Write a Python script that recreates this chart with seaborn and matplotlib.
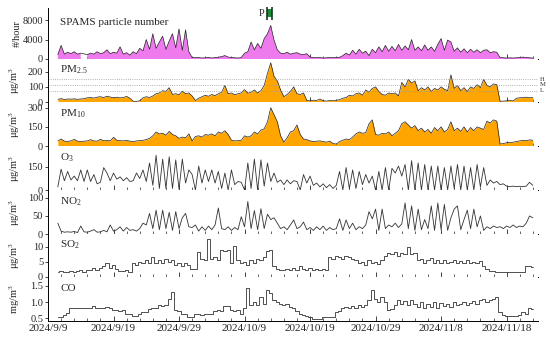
import numpy as np
import pandas as pd
import matplotlib
matplotlib.use("Agg")
import matplotlib.pyplot as plt
import seaborn as sns

# 12-hourly values, starting 2024-09-10 12:00
spams = [
    900, 2800, 1000, 1400, 1100, 1500, 1000, 1200, np.nan, 900,
    1200, 1000, 1500, 1100, 1300, 1900, 1100, 1400, 1200, 2500,
    1000, 1300, 800, 1500, 1100, 2200, 1700, 4000, 2000, 5200,
    2200, 3500, 4700, 2000, 3700, 5200, 2300, 6200, 1800, 6000,
    1500, 300, 250, 300, 200, 250, 300, 200, 300, 350,
    500, 700, 400, 300, 250, 200, 300, 1200, 1500, 3500,
    1900, 3200, 2200, 4200, 5200, 6900, 3900, 1900, 1200, 1100,
    1400, 1000, 1200, 1300, 1000, 900, 1100, 400, 300, 250,
    300, 200, 250, 300, 250, 300, 350, 700, 1200, 800,
    1800, 1000, 2000, 1200, 1600, 700, 2000, 1300, 2500, 1500,
    2800, 1600, 2600, 1700, 3000, 1800, 2700, 1900, 4000, 1800,
    2500, 1700, 2900, 1800, 2500, 1600, 3000, 4200, 1800, 3900,
    3500, 1600, 2300, 1400, 2100, 1300, 2000, 1400, 1900, 1300,
    1800, 1900, 1300, 1500, 1400, 300, 250, 200, 250, 200,
    250, 300, 400, 300, 250, 200,
]
pm25 = [
    18, 22, 17, 20, 19, 21, 18, 20, 22, 28,
    30, 26, 32, 35, 30, 38, 33, 28, 32, 27,
    30, 37, 25, 5, 4, 8, 28, 35, 30, 40,
    55, 60, 75, 70, 95, 50, 55, 48, 72, 55,
    60, 40, 10, 25, 35, 45, 38, 50, 42, 55,
    65, 110, 55, 60, 48, 55, 60, 82, 58, 65,
    80, 60, 75, 110, 190, 260, 170, 140, 80, 35,
    50, 70, 100, 55, 50, 60, 10, 8, 12, 10,
    20, 8, 6, 10, 8, 12, 15, 25, 30, 45,
    40, 55, 60, 45, 80, 65, 90, 100, 70, 50,
    45, 60, 55, 60, 40, 130, 100, 150, 125, 140,
    75, 95, 80, 100, 70, 90, 80, 100, 85, 75,
    180, 90, 110, 75, 95, 70, 100, 90, 115, 95,
    150, 110, 100, 120, 115, 5, 6, 8, 10, 7,
    25, 28, 30, 32, 28, 30,
]
pm10 = [
    40, 55, 38, 36, 40, 52, 38, 35, 38, 40,
    50, 40, 38, 52, 42, 45, 40, 68, 45, 42,
    40, 45, 38, 35, 40, 42, 45, 50, 60, 80,
    110, 95, 100, 85, 115, 90, 80, 60, 70, 65,
    95, 40, 75, 80, 70, 90, 85, 95, 80, 110,
    100, 120, 90, 45, 40, 42, 45, 80, 70, 80,
    110, 95, 125, 135, 190, 300, 245, 190, 80, 30,
    65, 110, 120, 165, 90, 55, 50, 40, 35, 38,
    40, 35, 30, 38, 20, 15, 35, 45, 55, 50,
    70, 95, 110, 100, 105, 175, 205, 90, 85, 100,
    95, 110, 80, 100, 120, 175, 190, 165, 140, 160,
    120, 140, 110, 130, 100, 145, 120, 150, 110, 130,
    190, 120, 140, 115, 150, 110, 145, 120, 150, 140,
    130, 195, 180, 205, 195, 15, 20, 25, 28, 30,
    35, 40, 45, 42, 48, 45,
]
o3 = [
    20, 135, 60, 120, 65, 90, 60, 130, 55, 130,
    55, 100, 40, 50, 145, 110, 60, 110, 70, 85,
    60, 80, 55, 60, 110, 75, 130, 55, 175, 30,
    225, 10, 200, 10, 215, 10, 195, 5, 200, 45,
    130, 100, 0, 155, 45, 130, 55, 130, 45, 120,
    10, 110, 0, 130, 35, 55, 50, 0, 175, 10,
    200, 0, 195, 25, 175, 55, 110, 50, 65, 35,
    65, 40, 60, 55, 0, 100, 45, 90, 30, 45,
    20, 40, 15, 35, 10, 30, 120, 0, 145, 10,
    130, 10, 120, 35, 100, 45, 90, 0, 120, 0,
    145, 0, 140, 110, 155, 90, 165, 0, 190, 0,
    175, 0, 165, 0, 155, 0, 155, 0, 145, 0,
    155, 10, 165, 0, 155, 0, 145, 0, 165, 20,
    145, 30, 65, 45, 55, 35, 40, 25, 22, 25,
    22, 24, 22, 25, 50, 30,
]
no2 = [
    30, 8, 5, 6, 5, 7, 4, 22, 6, 5,
    8, 12, 5, 6, 10, 6, 25, 8, 12, 20,
    8, 18, 10, 12, 8, 15, 30, 25, 57, 15,
    66, 12, 66, 15, 60, 10, 62, 15, 45, 57,
    20, 18, 25, 8, 20, 10, 22, 12, 25, 72,
    15, 12, 20, 10, 18, 12, 48, 20, 90, 15,
    65, 12, 70, 15, 55, 40, 45, 30, 15, 20,
    12, 25, 39, 15, 20, 33, 12, 18, 10, 20,
    12, 22, 10, 18, 12, 15, 42, 10, 39, 15,
    30, 12, 20, 15, 25, 62, 42, 69, 10, 69,
    15, 25, 20, 30, 18, 28, 86, 15, 78, 10,
    69, 12, 40, 15, 78, 10, 86, 12, 82, 10,
    45, 69, 78, 12, 40, 66, 15, 69, 20, 50,
    10, 20, 15, 22, 18, 20, 15, 22, 18, 25,
    18, 22, 20, 30, 50, 45,
]
so2 = [
    1.5, 2.0, 1.5, 1.8, 2.0, 1.8, 2.0, 2.2, 1.8, 2.4,
    2.4, 3.0, 2.2, 3.0, 3.5, 4.5, 3.0, 4.0, 2.5, 2.0,
    2.0, 2.2, 1.8, 4.5, 4.0, 5.0, 4.5, 5.5, 4.8, 6.5,
    4.5, 5.5, 4.8, 6.0, 5.0, 5.5, 4.0, 4.5, 3.5, 4.5,
    4.0, 2.5, 2.5, 8.4, 6.0, 5.5, 12.7, 6.0, 6.5, 5.5,
    9.0, 8.5, 9.0, 4.5, 10.2, 5.5, 4.5, 5.0, 4.0, 5.5,
    4.5, 6.0, 5.5, 6.5, 8.5, 9.0, 3.5, 2.5, 2.4, 2.4,
    2.6, 2.2, 3.0, 2.4, 3.5, 2.6, 2.4, 3.0, 2.4, 2.8,
    2.4, 2.6, 2.4, 6.5, 6.0, 7.0, 6.5, 6.0, 7.0, 6.5,
    6.0, 5.5, 4.5, 5.0, 4.0, 5.5, 4.5, 5.0, 4.2, 5.5,
    7.0, 8.0, 7.5, 8.4, 7.0, 8.0, 7.5, 10.0, 7.5, 8.0,
    5.5, 6.0, 4.5, 5.5, 6.2, 4.5, 5.5, 4.8, 5.8, 4.5,
    5.0, 5.5, 4.5, 5.2, 4.5, 5.5, 4.8, 5.0, 4.5, 5.2,
    3.5, 2.6, 2.0, 2.0, 1.8, 1.8, 1.8, 1.8, 1.8, 1.8,
    1.8, 1.8, 1.8, 3.5, 3.5, 3.2,
]
co = [
    0.55, 0.52, 0.60, 0.65, 0.80, 0.82, 0.80, 0.82, 0.80, 0.82,
    0.82, 0.87, 0.82, 0.80, 0.82, 0.85, 0.82, 0.75, 0.74, 0.72,
    0.74, 0.64, 0.62, 0.58, 0.56, 0.62, 0.70, 0.68, 0.78, 0.82,
    0.80, 0.90, 0.88, 0.92, 1.10, 1.30, 0.74, 0.72, 0.64, 0.62,
    0.55, 0.52, 0.62, 0.64, 0.60, 0.64, 0.62, 0.64, 0.72, 0.74,
    0.72, 0.87, 0.88, 0.74, 0.72, 0.74, 0.64, 0.80, 1.43, 0.92,
    1.00, 0.90, 1.15, 0.95, 1.37, 1.27, 1.06, 1.00, 0.95, 0.92,
    0.95, 0.85, 0.80, 0.72, 0.64, 0.60, 0.56, 0.55, 0.48, 0.48,
    0.48, 0.53, 0.53, 0.53, 0.55, 0.68, 0.72, 0.80, 0.85, 0.82,
    0.88, 0.82, 0.90, 0.85, 0.92, 1.05, 1.37, 1.10, 1.00, 1.16,
    1.00, 0.76, 0.78, 0.92, 1.05, 0.95, 1.02, 0.90, 1.05, 0.95,
    0.85, 1.00, 0.82, 0.95, 0.85, 1.00, 0.82, 0.98, 0.88, 0.95,
    0.85, 1.00, 0.90, 0.95, 1.00, 0.92, 0.98, 1.02, 0.95, 1.05,
    1.10, 1.00, 1.05, 1.10, 1.16, 0.69, 0.60, 0.58, 0.56, 0.58,
    0.58, 0.60, 0.70, 0.62, 0.80, 0.78,
]

major_dates = ["2024-09-09", "2024-09-19", "2024-09-29", "2024-10-09",
               "2024-10-19", "2024-10-29", "2024-11-08", "2024-11-18"]
tick_labels = ["2024/9/9", "2024/9/19", "2024/9/29", "2024/10/9",
               "2024/10/19", "2024/10/29", "2024/11/8", "2024/11/18"]
pm25_levels = [75, 115, 150]
level_names = ["L", "M", "H"]
episode = ["2024-10-12 10:00", "2024-10-13 06:00"]

sns.set_theme(style="ticks")
plt.rcParams["font.family"] = ["Liberation Serif", "DejaVu Serif"]
plt.rcParams["mathtext.fontset"] = "custom"
plt.rcParams["mathtext.rm"] = "Liberation Serif"
plt.rcParams["mathtext.it"] = "Liberation Serif:italic"

times = pd.date_range("2024-09-10 12:00", periods=len(spams), freq="12h")
UG = r"μg/m$^3$"
VIOLET = "#ee7aee"
ORANGE = "#ffa500"

panels = [
    (spams, "#/hour", "SPAMS particle number", (0, 10500), [0, 4000, 8000], VIOLET, None),
    (pm25, UG, r"PM$_{2.5}$", (0, 285), [0, 100, 200], ORANGE, None),
    (pm10, UG, r"PM$_{10}$", (0, 345), [0, 150, 300], ORANGE, None),
    (o3, UG, r"O$_3$", (0, 285), [0, 150], None, None),
    (no2, UG, r"NO$_2$", (0, 122), [0, 50, 100], None, None),
    (so2, UG, r"SO$_2$", (0, 14.3), [0, 5, 10], None, "steps-mid"),
    (co, "mg/m$^3$", "CO", (0.41, 1.78), [0.5, 1.0, 1.5], None, "steps-mid"),
]

fig, axes = plt.subplots(len(panels), 1, figsize=(5.5, 3.44), sharex=True,
                         gridspec_kw=dict(height_ratios=[51, 43, 44, 44, 44, 43, 44], hspace=0))
fig.subplots_adjust(left=48 / 550, right=538 / 550, top=1 - 8 / 344, bottom=1 - 321 / 344)

for ax, (vals, ylab, name, ylim, yt, fill, ds) in zip(axes, panels):
    v = np.array(vals, dtype=float)
    if fill:
        ax.fill_between(times, ylim[0], v, color=fill, linewidth=0)
        sns.lineplot(x=times, y=v, ax=ax, color="#222222", linewidth=0.5)
    else:
        sns.lineplot(x=times, y=v, ax=ax, color="#333333", linewidth=0.6,
                     drawstyle=ds if ds else "default")
    ax.set_ylim(*ylim)
    ax.set_yticks(yt)
    if name == "CO":
        ax.set_yticklabels([f"{t:.1f}" for t in yt])
    ax.set_ylabel(ylab, fontsize=7.5)
    ax.yaxis.set_label_coords(-0.053, 0.5)
    ax.text(0.025, 0.74 if name != "SPAMS particle number" else 0.72, name,
            transform=ax.transAxes, fontsize=8, va="center", ha="left")
    for s in ["top", "right"]:
        ax.spines[s].set_visible(False)
    for s in ["left", "bottom"]:
        ax.spines[s].set_linewidth(0.7)
        ax.spines[s].set_color("black")
    ax.tick_params(axis="y", direction="out", length=2.5, width=0.6, labelsize=7.5, pad=1)
    ax.tick_params(axis="x", which="major", direction="in", length=3.5, width=0.6, labelsize=8, pad=2)
    ax.tick_params(axis="x", which="minor", direction="in", length=2, width=0.5)

# PM2.5 standard levels
ax = axes[1]
for lev, nm in zip(pm25_levels, level_names):
    ax.axhline(lev, color="#999999", linestyle=":", linewidth=0.6)
    ax.text(1.004, lev, nm, transform=ax.get_yaxis_transform(), fontsize=4.8,
            va="center", ha="left", color="#333333")

# pollution episode marker
ax = axes[0]
t0, t1 = pd.Timestamp(episode[0]), pd.Timestamp(episode[1])
ax.fill_between([t0, t1], 8600, 10200, color="#1f8a3a", linewidth=0, clip_on=False)
ax.vlines([t0, t1], 8100, 10700, color="#0d3d1a", linewidth=1.2, clip_on=False)
ax.text(t0 - pd.Timedelta(hours=8), 9400, "P", fontsize=7.5, ha="right", va="center")

bottom = axes[-1]
bottom.set_xlim(pd.Timestamp("2024-09-09"), pd.Timestamp("2024-11-22 19:00"))
bottom.set_xticks(pd.to_datetime(major_dates))
bottom.set_xticklabels(tick_labels)
bottom.set_xticks(pd.date_range("2024-09-09", "2024-11-22", freq="2D"), minor=True)
bottom.set_xlabel("")

fig.savefig("out.png", dpi=100)
